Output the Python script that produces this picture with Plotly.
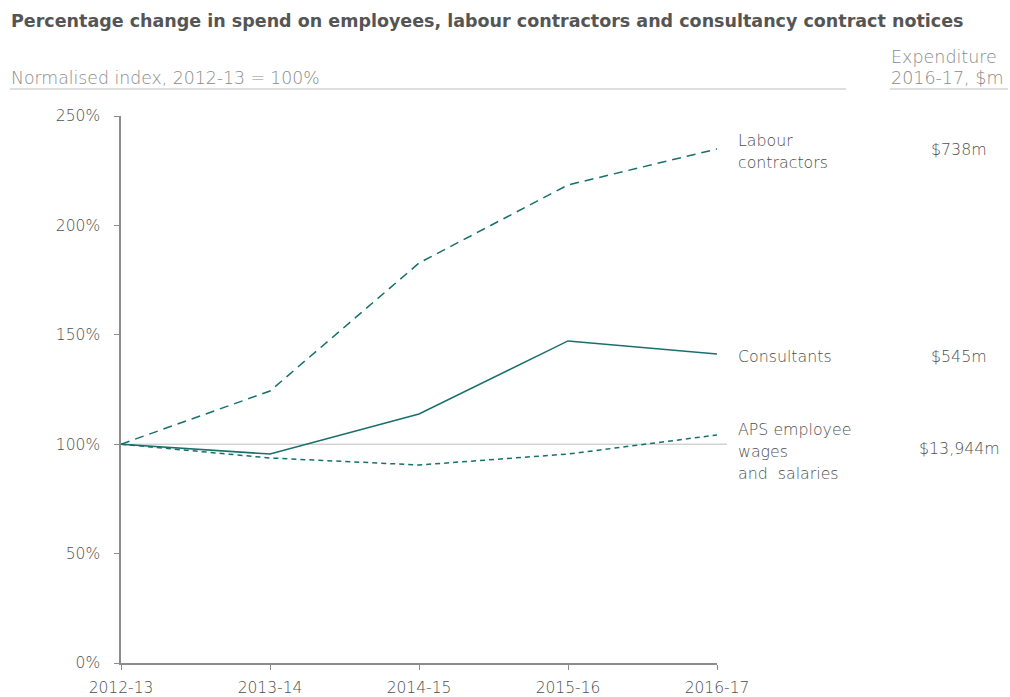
import plotly.graph_objects as go

years = ["2012-13", "2013-14", "2014-15", "2015-16", "2016-17"]
labour = [100, 124.3, 182.8, 218.5, 234.9]
consultants = [100, 95.5, 113.8, 147.2, 141.2]
aps = [100, 93.7, 90.5, 95.5, 104.2]

# end-of-line labels, one entry per text row, with the row's level on the value axis
label_rows = ["Labour", "contractors", "Consultants", "APS employee", "wages", "and  salaries"]
label_rows_y = [238.7, 228.6, 139.9, 106.7, 96.7, 86.6]
expenditure = ["$738m", "$545m", "$13,944m"]
expenditure_y = [234.5, 139.9, 98.0]

y_ticks = [0, 50, 100, 150, 200, 250]
y_tick_text = ["0%", "50%", "100%", "150%", "200%", "250%"]

TEAL = "#17706b"
TEXT = "#4f4f4f"
SUB = "#8a8a8a"
FONT = "DejaVu Sans"

fig = go.Figure()
fig.add_trace(go.Scatter(x=years, y=labour, mode="lines",
                         line=dict(color=TEAL, width=1.5, dash="9px,6px")))
fig.add_trace(go.Scatter(x=years, y=consultants, mode="lines",
                         line=dict(color=TEAL, width=1.5)))
fig.add_trace(go.Scatter(x=years, y=aps, mode="lines",
                         line=dict(color=TEAL, width=1.5, dash="5px,4px")))

L, R, T, B = 121, 293, 116, 34
W, H = 1010, 697
pw, ph = W - L - R, H - T - B


def px_x(px):
    return (px - L) / pw


def px_y(py):
    return (H - B - py) / ph


shapes = [
    # 100% reference line
    dict(type="line", xref="paper", yref="y", x0=0, x1=px_x(727), y0=100, y1=100,
         line=dict(color="#bdbdbd", width=1), layer="below"),
    # header underlines
    dict(type="line", xref="paper", yref="paper", x0=px_x(10), x1=px_x(846),
         y0=px_y(89), y1=px_y(89), line=dict(color="#bdbdbd", width=1)),
    dict(type="line", xref="paper", yref="paper", x0=px_x(890), x1=px_x(1008),
         y0=px_y(89), y1=px_y(89), line=dict(color="#bdbdbd", width=1)),
]

annotations = [
    dict(text="<b>Percentage change in spend on employees, labour contractors and consultancy contract notices</b>",
         xref="paper", yref="paper", x=px_x(9), y=px_y(21), xanchor="left", yanchor="middle",
         showarrow=False, font=dict(family=FONT, size=17.5, color="#555555")),
    dict(text="Normalised index, 2012-13 = 100%", xref="paper", yref="paper",
         x=px_x(9), y=px_y(78), xanchor="left", yanchor="middle", showarrow=False,
         font=dict(family=FONT, size=17.3, color=SUB, weight=200)),
    dict(text="Expenditure", xref="paper", yref="paper",
         x=px_x(889), y=px_y(57), xanchor="left", yanchor="middle",
         showarrow=False, font=dict(family=FONT, size=17.5, color=SUB, weight=200)),
    dict(text="2016-17, $m", xref="paper", yref="paper",
         x=px_x(889), y=px_y(78), xanchor="left", yanchor="middle",
         showarrow=False, font=dict(family=FONT, size=17.5, color=SUB, weight=200)),
]
for row, yv in zip(label_rows, label_rows_y):
    annotations.append(dict(text=row, xref="paper", yref="y", x=px_x(736), y=yv,
                            xanchor="left", yanchor="middle", align="left", showarrow=False,
                            font=dict(family=FONT, size=15.8, color=TEXT, weight=300)))
for val, yv in zip(expenditure, expenditure_y):
    annotations.append(dict(text=val, xref="paper", yref="y", x=px_x(959), y=yv,
                            xanchor="center", yanchor="middle", showarrow=False,
                            font=dict(family=FONT, size=15.8, color=TEXT, weight=300)))

fig.update_layout(
    width=W, height=H,
    margin=dict(l=L, r=R, t=T, b=B),
    plot_bgcolor="white", paper_bgcolor="white",
    showlegend=False,
    font=dict(family=FONT, size=14, color=TEXT),
    xaxis=dict(range=[0, 4], showgrid=False, zeroline=False, showline=True,
               linecolor="#8c8c8c", linewidth=1.5, ticks="outside", ticklen=5,
               tickcolor="#8c8c8c", tickfont=dict(size=15.5, color=TEXT, weight=300),
               tickmode="array", tickvals=years, ticktext=years, automargin=False,
               ticklabelstandoff=5),
    yaxis=dict(range=[0, 250], showgrid=False, zeroline=False, showline=True,
               linecolor="#8c8c8c", linewidth=1.5, ticks="outside", ticklen=5,
               tickcolor="#8c8c8c", tickvals=y_ticks, ticktext=y_tick_text,
               tickfont=dict(size=15.5, color=TEXT, weight=300), ticklabelstandoff=11,
               automargin=False),
    shapes=shapes,
    annotations=annotations,
)

fig.write_html("out.html")
